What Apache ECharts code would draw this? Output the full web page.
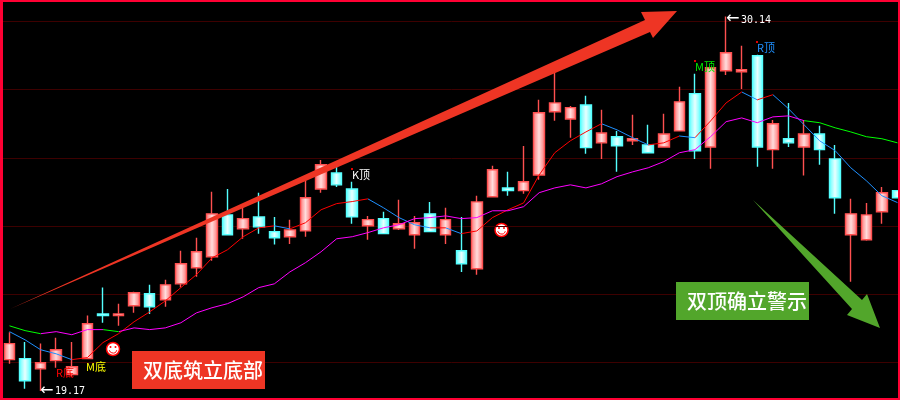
<!DOCTYPE html>
<html>
<head>
<meta charset="utf-8">
<style>
  html, body { margin: 0; padding: 0; background: #000; }
  #chart { width: 900px; height: 400px; }
</style>
<script src="https://cdn.jsdelivr.net/npm/echarts@6/dist/echarts.min.js"></script>
</head>
<body>
<div id="chart"></div>
<script>
const opens = [20.09, 20.12, 19.82, 20.06, 19.65, 20.12, 21.43, 21.38, 21.67, 22.02, 21.84, 22.31, 22.78, 23.10, 24.33, 23.92, 24.27, 23.84, 23.69, 23.86, 25.09, 25.56, 25.09, 24.01, 24.22, 23.92, 23.75, 24.36, 23.75, 23.28, 22.75, 24.86, 25.12, 25.04, 25.50, 27.35, 27.14, 27.55, 26.44, 26.62, 26.50, 26.38, 26.32, 26.79, 27.88, 26.32, 28.55, 28.52, 28.99, 26.24, 26.56, 26.32, 26.70, 25.97, 23.75, 23.60, 24.42, 25.04];
const closes = [20.56, 19.47, 20.00, 20.38, 19.88, 21.14, 21.38, 21.43, 22.05, 21.64, 22.28, 22.90, 23.25, 24.36, 23.75, 24.22, 23.98, 23.66, 23.89, 24.83, 25.80, 25.21, 24.27, 24.19, 23.78, 24.07, 24.10, 23.84, 24.19, 22.90, 24.71, 25.65, 25.04, 25.30, 27.32, 27.61, 27.47, 26.30, 26.73, 26.35, 26.56, 26.15, 26.70, 27.64, 26.21, 28.64, 29.08, 28.58, 26.32, 27.00, 26.44, 26.70, 26.24, 24.83, 24.36, 24.33, 24.98, 24.83];
const lows = [19.97, 19.24, 19.17, 19.85, 19.59, 20.12, 21.17, 21.08, 21.46, 21.43, 21.64, 22.20, 22.52, 22.99, 23.75, 23.63, 23.78, 23.46, 23.48, 23.69, 24.98, 25.15, 24.07, 23.60, 23.78, 23.89, 23.34, 23.84, 23.48, 22.66, 22.58, 24.86, 24.89, 24.95, 25.36, 27.09, 26.59, 26.12, 25.97, 25.59, 26.38, 26.15, 26.32, 26.79, 25.97, 25.68, 28.43, 28.02, 25.74, 25.68, 26.32, 25.48, 25.80, 24.36, 22.37, 23.57, 24.07, 24.83];
const highs = [20.89, 20.61, 20.56, 20.73, 20.61, 21.38, 22.20, 21.73, 22.08, 22.28, 22.43, 23.28, 23.66, 25.01, 25.09, 24.63, 24.98, 24.27, 24.19, 25.42, 25.94, 25.74, 25.30, 24.30, 24.42, 24.77, 24.30, 24.71, 24.54, 24.27, 24.89, 25.77, 25.59, 26.35, 27.70, 28.52, 27.52, 27.82, 27.41, 26.79, 27.26, 26.97, 27.29, 28.08, 28.46, 28.64, 30.14, 29.28, 29.02, 27.11, 27.61, 27.11, 26.94, 26.38, 24.80, 24.68, 25.15, 25.04];
const shortMa = [20.91, 20.67, 20.38, 20.26, 20.09, 20.15, 20.59, 20.85, 21.20, 21.49, 21.81, 22.20, 22.58, 23.07, 23.31, 23.69, 23.95, 24.01, 23.92, 24.10, 24.48, 24.66, 24.72, 24.80, 24.54, 24.25, 24.04, 23.95, 23.95, 23.78, 23.86, 24.25, 24.48, 24.68, 25.50, 26.15, 26.50, 26.76, 27.00, 26.82, 26.59, 26.38, 26.44, 26.64, 26.59, 27.08, 27.61, 27.93, 27.70, 27.85, 27.44, 26.97, 26.50, 26.21, 25.71, 25.33, 24.89, 24.69];
const longMa = [21.08, 20.94, 20.85, 20.91, 20.82, 20.97, 20.97, 20.91, 21.02, 20.97, 21.02, 21.17, 21.46, 21.61, 21.73, 21.93, 22.20, 22.31, 22.66, 22.93, 23.25, 23.63, 23.69, 23.81, 23.95, 24.04, 24.22, 24.25, 24.30, 24.22, 24.25, 24.45, 24.45, 24.57, 24.98, 25.12, 25.21, 25.12, 25.24, 25.45, 25.59, 25.71, 25.89, 26.15, 26.24, 26.62, 27.06, 27.17, 27.03, 27.20, 27.23, 27.09, 27.03, 26.88, 26.76, 26.62, 26.56, 26.44];

// stretches of the two averages in the second colour, as fractional bar indexes
const shortFallRanges = [[0, 4], [17, 18], [23, 27.1], [28, 29], [38, 41], [43, 44], [47, 48], [49, 57]];
const longFallRanges = [[0, 1.85], [3.75, 4.2], [6, 6.5], [9, 9.35], [29, 29.35], [32, 32.3], [37, 37.3], [50.9, 57]];

const categories = opens.map((_, i) => i + 1);
const candles = opens.map((o, i) => [o, closes[i], lows[i], highs[i]]);

function barGradient(edge, mid) {
    return new echarts.graphic.LinearGradient(0, 0, 1, 0, [
        { offset: 0, color: edge },
        { offset: 0.5, color: mid },
        { offset: 1, color: edge }
    ]);
}

function rangePieces(ranges, baseColor, fallColor) {
    const pieces = [];
    let from = -1;
    ranges.forEach(r => {
        if (r[0] > from) pieces.push({ gte: from, lt: r[0], color: baseColor });
        pieces.push({ gte: r[0], lt: r[1], color: fallColor });
        from = r[1];
    });
    pieces.push({ gte: from, lte: 99, color: baseColor });
    return pieces;
}

function maSeries(name, values) {
    return {
        name: name,
        type: 'line',
        data: values,
        showSymbol: false,
        smooth: false,
        silent: true,
        z: 5,
        lineStyle: { width: 1 }
    };
}

function tag(text, x, y, color, size, weight) {
    return {
        type: 'text',
        x: x,
        y: y,
        z: 20,
        style: { text: text, fill: color, font: (weight || 'normal') + ' ' + (size || 11) + 'px "Noto Sans CJK SC"', textVerticalAlign: 'middle' }
    };
}

function priceText(text, x, y) {
    return {
        type: 'text',
        x: x,
        y: y,
        z: 20,
        style: { text: text, fill: '#fff', font: '10px "DejaVu Sans Mono"', textVerticalAlign: 'middle' }
    };
}

function dot(x, y) {
    return { type: 'rect', z: 20, shape: { x: x, y: y, width: 2, height: 2 }, style: { fill: '#e00000' } };
}

function smiley(cx, cy) {
    return {
        type: 'group',
        x: cx,
        y: cy,
        z: 20,
        children: [
            { type: 'circle', shape: { cx: 0, cy: 0, r: 6.5 }, style: { fill: '#fff', stroke: '#f00', lineWidth: 1.5 } },
            { type: 'circle', shape: { cx: -2.5, cy: -2, r: 1 }, style: { fill: '#f00' } },
            { type: 'circle', shape: { cx: 2.5, cy: -2, r: 1 }, style: { fill: '#f00' } },
            { type: 'arc', shape: { cx: 0, cy: 0, r: 4, startAngle: 0.3, endAngle: Math.PI - 0.3 }, style: { stroke: '#f00', fill: 'none', lineWidth: 1 } }
        ]
    };
}

const overlay = [
    { type: 'polygon', z: 10, shape: { points: [[10, 309], [645, 20], [641, 12], [677, 11], [653, 38], [650, 32]] }, style: { fill: '#ee3524' } },
    { type: 'polygon', z: 10, shape: { points: [[753, 200], [862, 300], [867, 294], [880, 328], [847, 315], [852, 309]] }, style: { fill: '#52a62b' } },
    { type: 'rect', z: 10, shape: { x: 132, y: 351, width: 133, height: 38 }, style: { fill: '#ee3524' } },
    { type: 'rect', z: 10, shape: { x: 676, y: 282, width: 133, height: 38 }, style: { fill: '#52a62b' } },
    tag('双底筑立底部', 143, 370, '#fff', 20, '500'),
    tag('双顶确立警示', 687, 301, '#fff', 20, '500'),
    tag('K顶', 352, 175, '#fff'),
    tag('R顶', 757, 48, '#1e90ff'),
    tag('M顶', 695, 67, '#00ee00'),
    tag('M底', 86, 367, '#ff0'),
    tag('R底', 56, 373, '#f00'),
    dot(351, 168),
    dot(756, 41),
    dot(694, 60),
    { type: 'text', x: 40, y: 391, z: 20, style: { text: '←', fill: '#fff', font: '16px "DejaVu Sans"', textVerticalAlign: 'middle' } },
    priceText('19.17', 55, 391),
    { type: 'text', x: 726, y: 19, z: 20, style: { text: '←', fill: '#fff', font: '16px "DejaVu Sans"', textVerticalAlign: 'middle' } },
    priceText('30.14', 741, 20),
    smiley(113, 349),
    smiley(501.5, 230),
    { type: 'rect', z: 30, shape: { x: 0, y: 0, width: 3, height: 400 }, style: { fill: '#ff0033' } },
    { type: 'rect', z: 30, shape: { x: 0, y: 0, width: 900, height: 2 }, style: { fill: '#ff0033' } },
    { type: 'rect', z: 30, shape: { x: 898, y: 0, width: 2, height: 400 }, style: { fill: '#ff0033' } },
    { type: 'rect', z: 30, shape: { x: 0, y: 398, width: 900, height: 2 }, style: { fill: '#ff0033' } }
];

const chart = echarts.init(document.getElementById('chart'));
chart.setOption({
    animation: false,
    backgroundColor: '#000',
    // the plot runs past the canvas so that the price grid falls on whole numbers
    grid: { left: 1.7, top: -47, width: 903.6, height: 478, outerBoundsMode: 'none' },
    xAxis: {
        type: 'category',
        data: categories,
        axisLine: { show: false },
        axisTick: { show: false },
        axisLabel: { show: false },
        splitLine: { show: false }
    },
    yAxis: {
        type: 'value',
        min: 18,
        max: 32,
        interval: 2,
        axisLine: { show: false },
        axisTick: { show: false },
        axisLabel: { show: false },
        splitLine: { lineStyle: { color: '#3d0000', width: 1 } }
    },
    visualMap: [
        { show: false, type: 'piecewise', seriesIndex: 1, dimension: 0, pieces: rangePieces(shortFallRanges, '#f00', '#1e90ff') },
        { show: false, type: 'piecewise', seriesIndex: 2, dimension: 0, pieces: rangePieces(longFallRanges, '#f0f', '#0f0') }
    ],
    series: [
        {
            type: 'candlestick',
            data: candles,
            barWidth: 11,
            silent: true,
            z: 3,
            itemStyle: {
                color: barGradient('#ff6e6e', '#ffdcdc'),
                color0: barGradient('#54ffff', '#e8ffff'),
                borderColor: '#ff5050',
                borderColor0: '#54ffff',
                borderWidth: 1.4
            }
        },
        maSeries('short', shortMa),
        maSeries('long', longMa)
    ],
    graphic: overlay
});
</script>
</body>
</html>
